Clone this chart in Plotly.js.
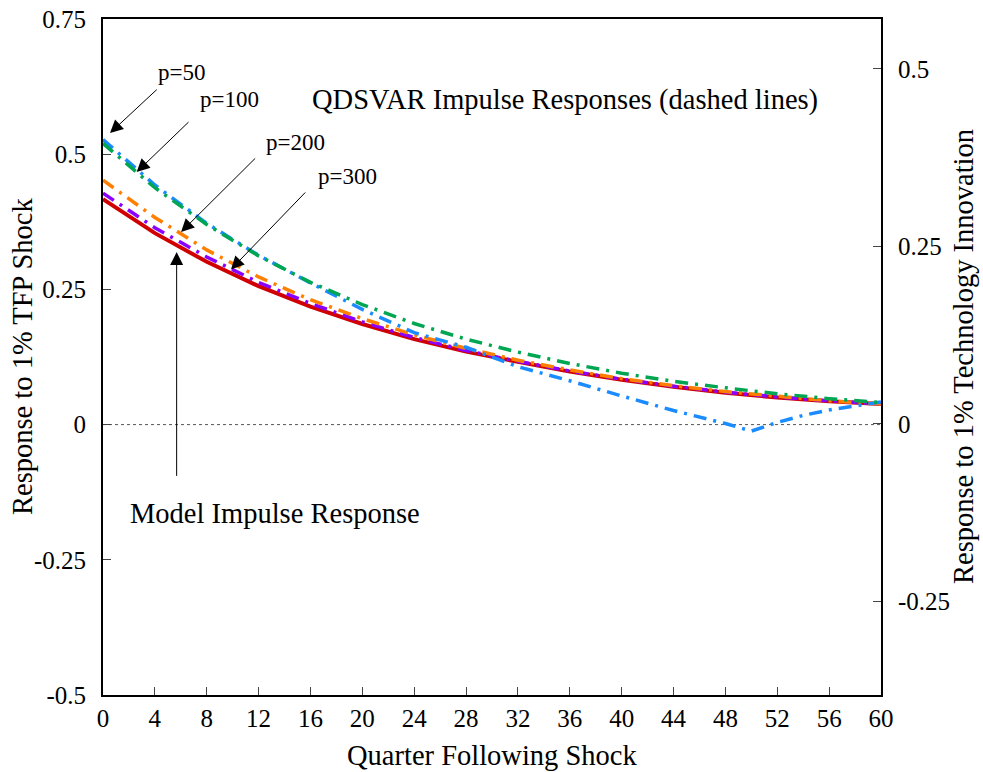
<!DOCTYPE html>
<html>
<head>
<meta charset="utf-8">
<script src="https://cdn.plot.ly/plotly-3.0.1.min.js"></script>
<style>html,body{margin:0;padding:0;background:#fff}#chart{width:983px;height:772px}</style>
</head>
<body>
<div id="chart"></div>
<script>
// ---- data ----
var quarters = [0,4,8,12,16,20,24,28,32,36,40,44,48,52,56,60];
var modelResp = [0.417,0.354,0.301,0.256,0.218,0.186,0.158,0.135,0.116,0.098,0.083,0.070,0.059,0.050,0.043,0.038];
var p300 = [0.428,0.364,0.310,0.263,0.224,0.190,0.161,0.137,0.117,0.099,0.084,0.071,0.060,0.051,0.044,0.038];
var p200 = [0.452,0.383,0.323,0.273,0.231,0.196,0.166,0.141,0.119,0.101,0.085,0.072,0.061,0.052,0.044,0.038];
var p100 = [0.520,0.438,0.370,0.312,0.263,0.222,0.187,0.158,0.134,0.113,0.095,0.080,0.068,0.057,0.048,0.041];
var quartersP50 = [0,4,8,12,16,20,24,28,32,36,40,44,48,50,52,54,56,58,60];
var p50 = [0.527,0.443,0.372,0.313,0.262,0.213,0.170,0.143,0.107,0.081,0.053,0.026,0.002,-0.012,0.004,0.017,0.027,0.035,0.042];

var xTicks = [0,4,8,12,16,20,24,28,32,36,40,44,48,52,56,60];
var yTickVals = [0.75,0.5,0.25,0,-0.25,-0.5];
var yTickText = ['0.75','0.5','0.25','0','-0.25','-0.5'];
var y2TickVals = [0.5,0.25,0,-0.25];
var y2TickText = ['0.5','0.25','0','-0.25'];

var FONT = 'Liberation Serif, Times New Roman, serif';
var dashdot = '13px,7px,3px,7px';

var traces = [
  {x: quarters, y: modelResp, mode:'lines', line:{color:'#d00000', width:4}},
  {x: quarters, y: p300, mode:'lines', line:{color:'#8a00ff', width:3.5, dash:dashdot}},
  {x: quarters, y: p200, mode:'lines', line:{color:'#ff7f00', width:3.5, dash:dashdot}},
  {x: quartersP50, y: p50, mode:'lines', line:{color:'#1a8cff', width:3.5, dash:dashdot}},
  {x: quarters, y: p100, mode:'lines', line:{color:'#00a651', width:3.5, dash:dashdot}},
  {x: [0,60], y: [0,0], yaxis:'y2', mode:'lines', line:{width:0}, hoverinfo:'skip', opacity:0}
];

function arrow(hx, hy, tx, ty){
  return {x:hx, y:hy, ax:tx, ay:ty, xref:'x', yref:'y', axref:'x', ayref:'y',
    showarrow:true, arrowhead:2, arrowsize:2.6, arrowwidth:1, arrowcolor:'#000', text:''};
}
function label(x, y, t, size){
  return {x:x, y:y, xref:'x', yref:'y', text:t, showarrow:false,
    font:{family:FONT, size:size, color:'#000'}, xanchor:'center', yanchor:'middle'};
}
function paperLabel(x, y, t, angle){
  return {x:x, y:y, xref:'paper', yref:'paper', text:t, showarrow:false, textangle:angle,
    font:{family:FONT, size:28.5, color:'#000'}, xanchor:'center', yanchor:'middle'};
}

var layout = {
  width:983, height:772,
  margin:{l:103, r:102, t:19, b:77},
  paper_bgcolor:'#fff', plot_bgcolor:'#fff',
  showlegend:false,
  font:{family:FONT, color:'#000'},
  xaxis:{range:[0,60], tickvals:xTicks, ticktext:xTicks.map(String), ticks:'inside', ticklen:8, tickwidth:1,
    showline:true, linecolor:'#000', linewidth:2, mirror:true, showgrid:false, zeroline:false,
    tickfont:{family:FONT, size:25}, ticklabelstandoff:0},
  yaxis:{range:[-0.5,0.75], tickvals:yTickVals, ticktext:yTickText, ticks:'inside', ticklen:8, tickwidth:1,
    showline:true, linecolor:'#000', linewidth:2, mirror:true, showgrid:false, zeroline:false,
    tickfont:{family:FONT, size:25}, ticklabelstandoff:10},
  yaxis2:{range:[-0.3817,0.5704], overlaying:'y', side:'right', tickvals:y2TickVals, ticktext:y2TickText,
    ticks:'inside', ticklen:8, tickwidth:1, showline:true, linecolor:'#000', linewidth:2,
    showgrid:false, zeroline:false, tickfont:{family:FONT, size:25}, ticklabelstandoff:10},
  shapes:[{type:'line', xref:'paper', yref:'y', x0:0, x1:1, y0:0, y1:0,
    line:{color:'#555', width:1, dash:'dot'}, layer:'below'}],
  annotations:[
    arrow(0.54, 0.539, 4.26, 0.622),
    arrow(2.60, 0.467, 6.71, 0.562),
    arrow(6.02, 0.356, 11.85, 0.495),
    arrow(9.87, 0.287, 15.71, 0.432),
    arrow(5.68, 0.319, 5.68, -0.0976),
    label(6.09, 0.652, 'p=50', 23),
    label(9.72, 0.602, 'p=100', 23),
    label(14.81, 0.522, 'p=200', 23),
    label(18.86, 0.459, 'p=300', 23),
    label(35.63, 0.600, 'QDSVAR Impulse Responses (dashed lines)', 28.5),
    label(13.26, -0.165, 'Model Impulse Response', 28.5),
    paperLabel(0.5, -0.0888, 'Quarter Following Shock', 0),
    paperLabel(-0.1041, 0.5, 'Response to 1% TFP Shock', -90),
    paperLabel(1.1054, 0.5, 'Response to 1% Technology Innovation', -90)
  ]
};

Plotly.newPlot('chart', traces, layout, {staticPlot:true, displayModeBar:false});
</script>
</body>
</html>
